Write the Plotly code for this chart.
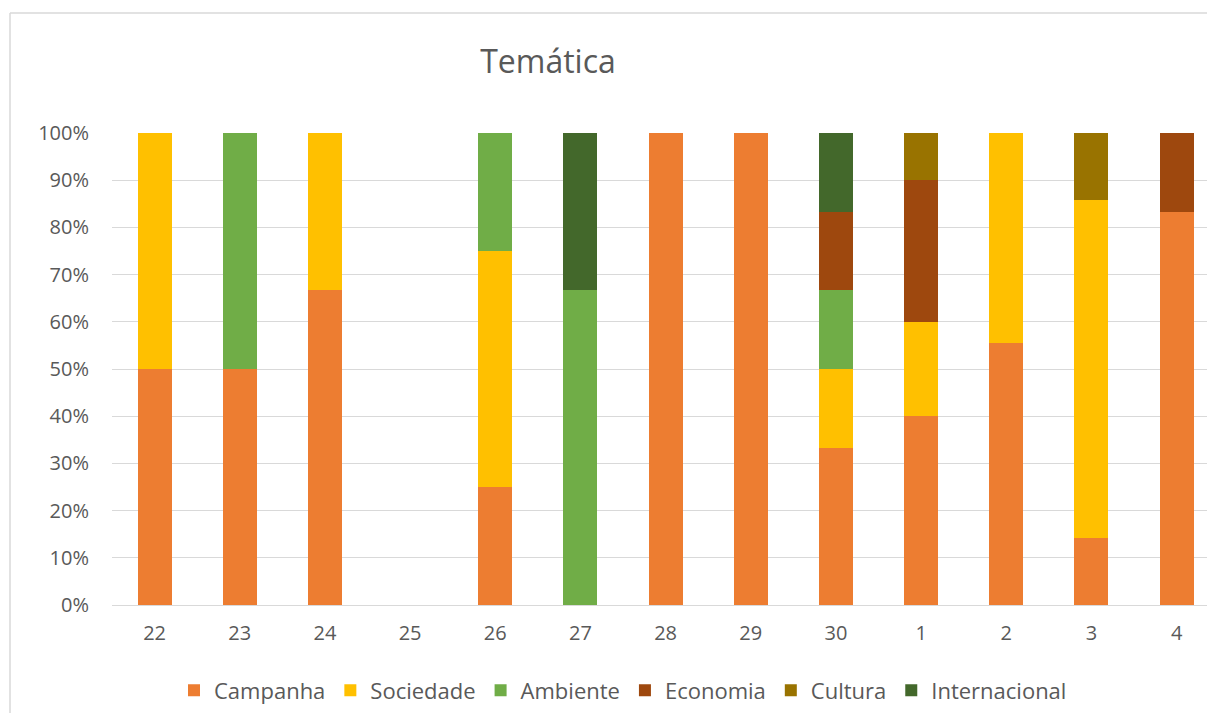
import plotly.graph_objects as go

# Days of the period (category axis)
dias = ["22", "23", "24", "25", "26", "27", "28", "29", "30", "1", "2", "3", "4"]

# Number of items per theme and day
campanha      = [1, 1, 2, 0, 1, 0, 1, 1, 2, 4, 5, 1, 5]
sociedade     = [1, 0, 1, 0, 2, 0, 0, 0, 1, 2, 4, 5, 0]
ambiente      = [0, 1, 0, 0, 1, 2, 0, 0, 1, 0, 0, 0, 0]
economia      = [0, 0, 0, 0, 0, 0, 0, 0, 1, 3, 0, 0, 1]
cultura       = [0, 0, 0, 0, 0, 0, 0, 0, 0, 1, 0, 1, 0]
internacional = [0, 0, 0, 0, 0, 1, 0, 0, 1, 0, 0, 0, 0]

series = [
    ("Campanha", campanha, "#ED7D31"),
    ("Sociedade", sociedade, "#FFC000"),
    ("Ambiente", ambiente, "#70AD47"),
    ("Economia", economia, "#9E480E"),
    ("Cultura", cultura, "#997300"),
    ("Internacional", internacional, "#43682B"),
]

FONT = "Open Sans"
GREY = "#595959"

fig = go.Figure()
for nome, valores, cor in series:
    fig.add_trace(go.Bar(
        x=dias, y=valores, name=nome,
        marker=dict(color=cor, line=dict(width=0)),
        hovertemplate="%{x}: %{y:.1f}%<extra>" + nome + "</extra>",
    ))

# Layout geometry (pixels)
W, H = 1207, 713
ML, MR, MT, MB = 112, 0, 133, 108
pw, ph = W - ML - MR, H - MT - MB
step = 85.17  # pixels per category

def px_x(x):
    return (x - ML) / pw

def px_y(y):
    return (H - MB - y) / ph

fig.update_layout(
    width=W, height=H,
    margin=dict(l=ML, r=MR, t=MT, b=MB, pad=0, autoexpand=False),
    paper_bgcolor="white", plot_bgcolor="white",
    barmode="stack", barnorm="percent", bargap=0.6,
    font=dict(family=FONT, color=GREY, size=20),
    title=dict(text="Temática", font=dict(family=FONT, size=32, color=GREY),
               x=px_x(548), xref="paper", xanchor="center",
               y=1 - 62 / H, yref="container", yanchor="middle"),
    showlegend=True,
    legend=dict(orientation="h", x=px_x(623), xanchor="center",
                y=0.002, yref="container", yanchor="bottom",
                font=dict(family=FONT, size=22, color=GREY),
                itemwidth=30, traceorder="normal",
                bgcolor="rgba(0,0,0,0)"),
    xaxis=dict(type="category", range=[-0.5, pw / step - 0.5],
               showgrid=False, showline=False, zeroline=False,
               ticks="", ticklabelstandoff=14,
               tickfont=dict(family=FONT, size=20, color=GREY)),
    yaxis=dict(range=[0, 100], dtick=10, ticksuffix="%",
               showgrid=True, gridcolor="#D9D9D9", gridwidth=1,
               zeroline=True, zerolinecolor="#D9D9D9", zerolinewidth=1,
               showline=False, ticks="", ticklabelstandoff=22,
               tickfont=dict(family=FONT, size=20, color=GREY)),
    shapes=[
        # chart area border (left and top edges)
        dict(type="line", xref="paper", yref="paper",
             x0=px_x(10), x1=px_x(10), y0=px_y(H), y1=px_y(13),
             line=dict(color="#D9D9D9", width=1.5)),
        dict(type="line", xref="paper", yref="paper",
             x0=px_x(10), x1=px_x(W), y0=px_y(13), y1=px_y(13),
             line=dict(color="#D9D9D9", width=1.5)),
    ],
)

fig.write_html("out.html")
